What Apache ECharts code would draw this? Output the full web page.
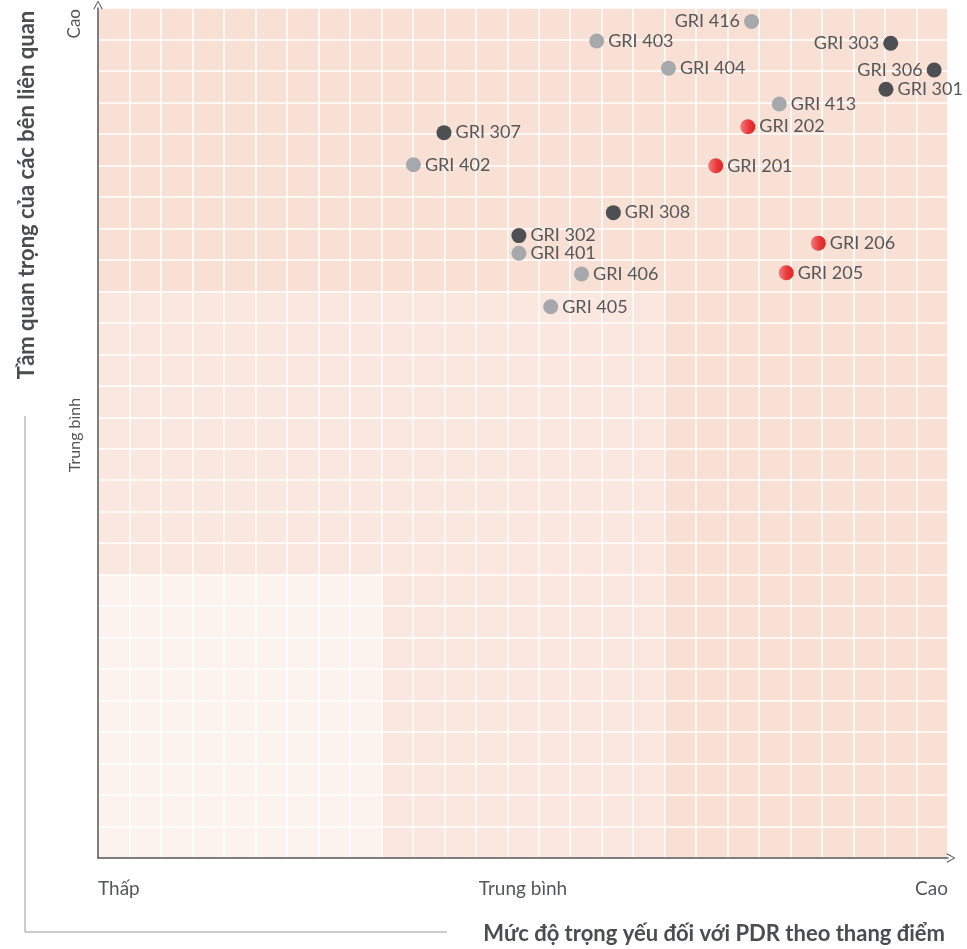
<!DOCTYPE html>
<html>
<head>
<meta charset="utf-8">
<script src="https://cdn.jsdelivr.net/npm/echarts@6/dist/echarts.min.js"></script>
<style>html,body{margin:0;padding:0;background:#fff}#c{width:967px;height:949px}</style>
</head>
<body>
<div id="c"></div>
<script>
// ---- data ----
const xTickValues = [0, 13.5, 27];
const xTickLabels = ['Thấp', 'Trung bình', 'Cao'];
const yTickLabels = ['Trung bình', 'Cao'];
const xTitle = 'Mức độ trọng yếu đối với PDR theo thang điểm';
const yTitle = 'Tầm quan trọng của các bên liên quan';

// group 3xx (environment, dark)
const envNames = ['GRI 303', 'GRI 306', 'GRI 301', 'GRI 307', 'GRI 308', 'GRI 302'];
const envX = [25.18, 26.56, 25.03, 10.99, 16.37, 13.37];
const envY = [25.88, 25.03, 24.42, 23.04, 20.50, 19.77];
// group 4xx (social, light gray)
const socNames = ['GRI 416', 'GRI 403', 'GRI 404', 'GRI 413', 'GRI 402', 'GRI 401', 'GRI 406', 'GRI 405'];
const socX = [20.76, 15.84, 18.12, 21.64, 10.02, 13.37, 15.36, 14.38];
const socY = [26.57, 25.95, 25.09, 23.95, 22.02, 19.21, 18.55, 17.51];
// group 2xx (economic, red)
const ecoNames = ['GRI 202', 'GRI 201', 'GRI 206', 'GRI 205'];
const ecoX = [20.64, 19.62, 22.88, 21.86];
const ecoY = [23.23, 21.99, 19.53, 18.59];
// labels placed on the left of the point
const leftLabeled = ['GRI 416', 'GRI 303', 'GRI 306'];

// background zones (levels of the 3x3 matrix)
const zoneBounds = [0, 9, 18, 27];

const chart = echarts.init(document.getElementById('c'));
const FONT = 'Lato';

function mk(names, xs, ys) {
  return names.map((n, i) => ({
    name: n,
    value: [xs[i], ys[i]],
    label: { position: leftLabeled.includes(n) ? 'left' : 'right' }
  }));
}

const zoneColors = ['#fcf3ef', '#fae8e0', '#f9e0d5'];
const zones = [];
for (let c = 0; c < 3; c++) {
  for (let r = 0; r < 3; r++) {
    zones.push([
      { xAxis: zoneBounds[c], yAxis: zoneBounds[r], itemStyle: { color: zoneColors[Math.max(c, r)] } },
      { xAxis: zoneBounds[c + 1], yAxis: zoneBounds[r + 1] }
    ]);
  }
}

const labelCommon = {
  show: true,
  formatter: '{b}',
  color: '#555759',
  fontFamily: FONT,
  fontSize: 18,
  distance: 4
};

const chevron = 'path://M0,9 L5,0 L10,9 L9.1,9.7 L5,1.9 L0.9,9.7 Z';

const option = {
  backgroundColor: '#ffffff',
  animation: false,
  grid: { left: 98, right: 19, top: 8, bottom: 91, containLabel: false },
  xAxis: {
    type: 'value', min: 0, max: 27, interval: 1,
    axisLine: { show: true, lineStyle: { color: '#555', width: 1.5 },
      symbol: ['none', chevron], symbolSize: [17, 9], symbolOffset: [0, 3] },
    axisTick: { show: false },
    splitLine: { show: true, lineStyle: { color: '#ffffff', width: 1.5 } },
    axisLabel: {
      customValues: xTickValues,
      formatter: (v) => xTickLabels[xTickValues.indexOf(v)] || '',
      alignMinLabel: 'left', alignMaxLabel: 'right',
      color: '#555759', fontFamily: FONT, fontSize: 19, margin: 21
    }
  },
  yAxis: {
    type: 'value', min: 0, max: 27, interval: 1,
    axisLine: { show: true, lineStyle: { color: '#555', width: 1.5 },
      symbol: ['none', chevron], symbolSize: [17, 9], symbolOffset: [0, 3] },
    axisTick: { show: false },
    splitLine: { show: true, lineStyle: { color: '#ffffff', width: 1.5 } },
    axisLabel: { show: false }
  },
  series: [
    {
      type: 'scatter', z: -1, data: [], silent: true,
      markArea: { silent: true, z: -1, data: zones }
    },
    {
      name: 'env', type: 'scatter', symbolSize: 15, z: 5,
      itemStyle: { color: '#4d4f52', opacity: 1 },
      label: labelCommon,
      data: mk(envNames, envX, envY)
    },
    {
      name: 'soc', type: 'scatter', symbolSize: 15, z: 5,
      itemStyle: { color: '#a6a8ab', opacity: 1 },
      label: labelCommon,
      data: mk(socNames, socX, socY)
    },
    {
      name: 'eco', type: 'scatter', symbolSize: 15, z: 5,
      itemStyle: {
        opacity: 1,
        color: new echarts.graphic.LinearGradient(0, 0, 1, 0, [
          { offset: 0, color: '#f27c7c' },
          { offset: 0.55, color: '#ea3a3c' },
          { offset: 1, color: '#e5201f' }
        ])
      },
      label: labelCommon,
      data: mk(ecoNames, ecoX, ecoY)
    }
  ],
  graphic: [
    { type: 'text', x: 75, y: 9, rotation: Math.PI / 2,
      style: { text: yTickLabels[1], fill: '#555759', font: '17px Lato', textAlign: 'right', textVerticalAlign: 'middle' } },
    { type: 'text', x: 75, y: 435, rotation: Math.PI / 2,
      style: { text: yTickLabels[0], fill: '#555759', font: '16px Lato', textAlign: 'center', textVerticalAlign: 'middle' } },
    { type: 'text', x: 27, y: 195, rotation: Math.PI / 2,
      style: { text: yTitle, fill: '#4a4c4f', font: 'bold 22px Lato', textAlign: 'center', textVerticalAlign: 'middle' } },
    { type: 'text', x: 945, y: 934,
      style: { text: xTitle, fill: '#4a4c4f', font: 'bold 22px Lato', textAlign: 'right', textVerticalAlign: 'middle' } },
    { type: 'polyline', shape: { points: [[25, 416], [25, 932], [447, 932]] },
      style: { stroke: '#9a9a9a', lineWidth: 1, fill: null } }
  ]
};
chart.setOption(option);
</script>
</body>
</html>
